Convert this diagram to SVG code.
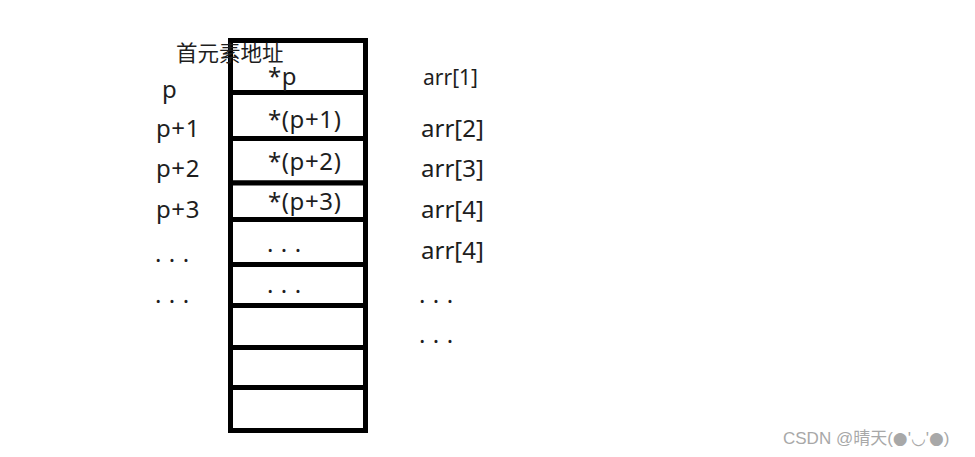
<svg xmlns="http://www.w3.org/2000/svg" width="975" height="457" viewBox="0 0 975 457">
<style>
.cell{fill:#fff;stroke:#000;stroke-width:5}
.t{font-family:"Noto Sans","Noto Sans CJK SC",sans-serif;fill:#1e1e1e;font-size:24px;letter-spacing:0.6px}
.a{letter-spacing:0}
.s{font-size:21px;letter-spacing:0}
.c{font-size:21.5px;letter-spacing:0}
.wm{font-family:"Liberation Sans","Noto Sans CJK SC","DejaVu Sans",sans-serif;fill:#a8a8a8;font-size:17px}
.sym{font-family:"DejaVu Sans",sans-serif}
</style>
<rect width="975" height="457" fill="#fff"/>
<g id="cells">
<g id="cell1"><rect class="cell" x="230.5" y="40.5" width="135" height="52"/></g>
<g id="cell2"><rect class="cell" x="230.5" y="92.5" width="135" height="46"/></g>
<g id="cell3"><rect class="cell" x="230.5" y="138.5" width="135" height="44.5"/></g>
<g id="cell4"><rect class="cell" x="230.5" y="183" width="135" height="36.5"/></g>
<g id="cell5"><rect class="cell" x="230.5" y="219.5" width="135" height="45"/></g>
<g id="cell6"><rect class="cell" x="230.5" y="264.5" width="135" height="41"/></g>
<g id="cell7"><rect class="cell" x="230.5" y="305.5" width="135" height="42"/></g>
<g id="cell8"><rect class="cell" x="230.5" y="347.5" width="135" height="40"/></g>
<g id="cell9"><rect class="cell" x="230.5" y="387.5" width="135" height="43"/></g>
</g>
<g id="connectors"></g>
<g id="labels">
<text class="t c" x="176" y="61">首元素地址</text>
<text class="t" x="268" y="85">*p</text>
<text class="t" x="268" y="128">*(p+1)</text>
<text class="t" x="268" y="170">*(p+2)</text>
<text class="t" x="268" y="210">*(p+3)</text>
<text class="t" x="267" y="252">. . .</text>
<text class="t" x="267" y="293">. . .</text>
<text class="t" x="162" y="98">p</text>
<text class="t" x="156" y="137">p+1</text>
<text class="t" x="156" y="177">p+2</text>
<text class="t" x="156" y="218">p+3</text>
<text class="t" x="155" y="262">. . .</text>
<text class="t" x="155" y="303">. . .</text>
<text class="t s" x="423" y="85">arr[1]</text>
<text class="t a" x="421" y="137">arr[2]</text>
<text class="t a" x="421" y="177">arr[3]</text>
<text class="t a" x="421" y="218">arr[4]</text>
<text class="t a" x="421" y="259">arr[4]</text>
<text class="t" x="419" y="303">. . .</text>
<text class="t" x="419" y="343">. . .</text>
<text class="wm" x="783" y="444">CSDN @晴天(<tspan class="sym">●</tspan>'<tspan class="sym">◡</tspan>'<tspan class="sym">●</tspan>)</text>
</g>
</svg>
